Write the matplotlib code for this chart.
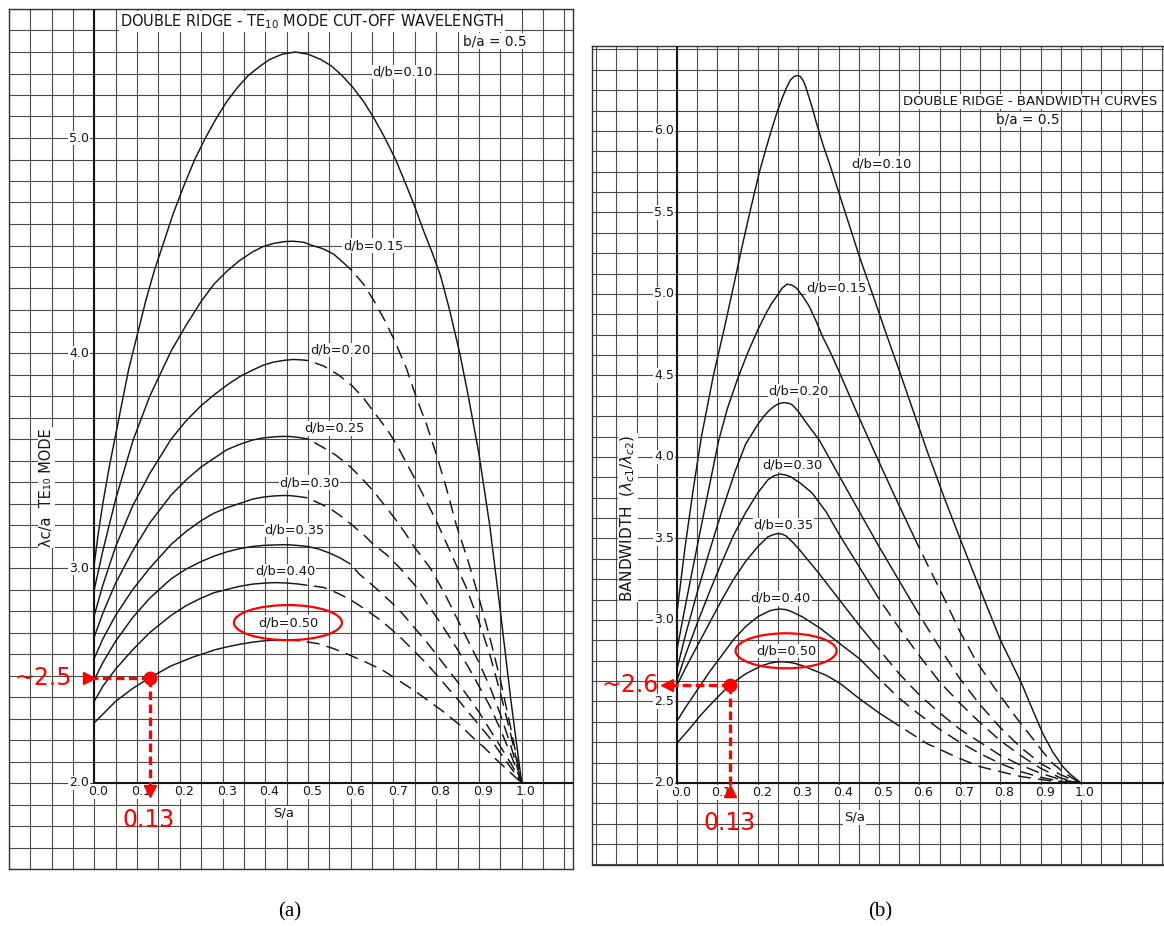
import numpy as np
import matplotlib
matplotlib.use("Agg")
import matplotlib.pyplot as plt
from matplotlib.patches import Ellipse

# ---------------- Panel (a): TE10 cut-off wavelength, lambda_c/a vs S/a ----------------
a_010_x = [0.00, 0.01, 0.02, 0.035, 0.05, 0.065, 0.08, 0.10, 0.12, 0.14, 0.16, 0.185, 0.21,
           0.235, 0.26, 0.285, 0.31, 0.335, 0.36, 0.385, 0.41, 0.44, 0.47, 0.50, 0.53,
           0.555, 0.58, 0.605, 0.63, 0.655, 0.68, 0.705, 0.73, 0.75, 0.77, 0.79, 0.81,
           0.83, 0.855, 0.875, 0.90, 0.925, 0.95, 0.975, 1.00]
a_010_y = [3.02, 3.17, 3.30, 3.47, 3.62, 3.77, 3.92, 4.08, 4.24, 4.38, 4.50, 4.65, 4.78,
           4.90, 5.00, 5.09, 5.17, 5.235, 5.29, 5.33, 5.365, 5.39, 5.40, 5.39, 5.365,
           5.335, 5.29, 5.235, 5.17, 5.09, 5.00, 4.90, 4.78, 4.68, 4.57, 4.47, 4.36,
           4.21, 4.00, 3.80, 3.53, 3.20, 2.80, 2.38, 2.00]

a_015_x = [0.00, 0.02, 0.05, 0.09, 0.13, 0.18, 0.215, 0.25, 0.28, 0.31, 0.34, 0.37, 0.395,
           0.42, 0.445, 0.465, 0.49, 0.51, 0.535, 0.56, 0.58, 0.602, 0.63, 0.657, 0.68,
           0.703, 0.73, 0.754, 0.777, 0.80, 0.824, 0.847, 0.875, 0.90, 0.925, 0.95, 0.975, 1.00]
a_015_y = [2.90, 3.08, 3.32, 3.59, 3.80, 4.01, 4.13, 4.24, 4.32, 4.38, 4.43, 4.47, 4.495,
           4.51, 4.518, 4.52, 4.515, 4.50, 4.485, 4.46, 4.425, 4.385, 4.32, 4.234, 4.15,
           4.056, 3.93, 3.79, 3.67, 3.53, 3.37, 3.20, 3.03, 2.86, 2.68, 2.48, 2.25, 2.00]

a_020_x = [0.00, 0.02, 0.05, 0.09, 0.13, 0.18, 0.215, 0.25, 0.28, 0.31, 0.34, 0.37, 0.395,
           0.42, 0.445, 0.465, 0.485, 0.50, 0.536, 0.57, 0.602, 0.63, 0.66, 0.685, 0.707,
           0.73, 0.754, 0.777, 0.80, 0.832, 0.87, 0.90, 0.925, 0.95, 0.975, 1.00]
a_020_y = [2.78, 2.92, 3.10, 3.29, 3.44, 3.60, 3.685, 3.755, 3.805, 3.85, 3.89, 3.92, 3.943,
           3.958, 3.966, 3.97, 3.968, 3.965, 3.94, 3.90, 3.85, 3.79, 3.71, 3.645, 3.575,
           3.49, 3.40, 3.31, 3.22, 3.08, 2.91, 2.75, 2.60, 2.42, 2.22, 2.00]

a_025_x = [0.00, 0.02, 0.05, 0.09, 0.13, 0.18, 0.215, 0.25, 0.28, 0.31, 0.34, 0.37, 0.395,
           0.42, 0.44, 0.455, 0.475, 0.50, 0.536, 0.565, 0.594, 0.622, 0.652, 0.68, 0.707,
           0.73, 0.75, 0.786, 0.82, 0.85, 0.875, 0.90, 0.925, 0.95, 0.975, 1.00]
a_025_y = [2.68, 2.79, 2.93, 3.08, 3.21, 3.34, 3.41, 3.47, 3.51, 3.55, 3.575, 3.595, 3.605,
           3.61, 3.612, 3.612, 3.608, 3.60, 3.56, 3.525, 3.48, 3.425, 3.36, 3.29, 3.22,
           3.155, 3.094, 3.00, 2.88, 2.76, 2.66, 2.56, 2.45, 2.32, 2.17, 2.00]

a_030_x = [0.00, 0.02, 0.05, 0.09, 0.13, 0.18, 0.215, 0.25, 0.28, 0.31, 0.34, 0.37, 0.395,
           0.42, 0.44, 0.455, 0.475, 0.497, 0.532, 0.558, 0.582, 0.606, 0.63, 0.653, 0.685,
           0.715, 0.75, 0.78, 0.815, 0.85, 0.875, 0.90, 0.925, 0.95, 0.975, 1.00]
a_030_y = [2.58, 2.67, 2.78, 2.90, 3.00, 3.11, 3.17, 3.22, 3.255, 3.28, 3.30, 3.32, 3.33,
           3.335, 3.337, 3.337, 3.333, 3.327, 3.296, 3.268, 3.234, 3.195, 3.155, 3.11, 3.06,
           3.00, 2.92, 2.83, 2.73, 2.62, 2.54, 2.45, 2.36, 2.25, 2.13, 2.00]

a_035_x = [0.00, 0.02, 0.05, 0.09, 0.13, 0.18, 0.215, 0.25, 0.28, 0.31, 0.34, 0.37, 0.395,
           0.42, 0.44, 0.455, 0.475, 0.50, 0.525, 0.55, 0.575, 0.598, 0.621, 0.645, 0.668,
           0.695, 0.72, 0.75, 0.78, 0.815, 0.85, 0.875, 0.90, 0.925, 0.95, 0.975, 1.00]
a_035_y = [2.48, 2.56, 2.66, 2.77, 2.86, 2.95, 2.995, 3.03, 3.055, 3.075, 3.09, 3.10, 3.105,
           3.107, 3.108, 3.108, 3.105, 3.10, 3.088, 3.07, 3.047, 3.02, 2.97, 2.93, 2.89,
           2.84, 2.79, 2.72, 2.65, 2.56, 2.47, 2.40, 2.33, 2.25, 2.17, 2.09, 2.00]

a_040_x = [0.00, 0.02, 0.05, 0.09, 0.13, 0.18, 0.215, 0.25, 0.28, 0.31, 0.34, 0.37, 0.40,
           0.425, 0.45, 0.475, 0.497, 0.536, 0.567, 0.598, 0.632, 0.668, 0.695, 0.72, 0.75,
           0.78, 0.815, 0.85, 0.875, 0.90, 0.925, 0.95, 0.975, 1.00]
a_040_y = [2.38, 2.45, 2.53, 2.62, 2.70, 2.78, 2.825, 2.86, 2.885, 2.90, 2.915, 2.925, 2.93,
           2.932, 2.93, 2.926, 2.92, 2.91, 2.885, 2.854, 2.81, 2.76, 2.715, 2.67, 2.61,
           2.55, 2.47, 2.39, 2.33, 2.27, 2.21, 2.14, 2.07, 2.00]

a_050_x = [0.00, 0.02, 0.05, 0.09, 0.13, 0.18, 0.23, 0.283, 0.31, 0.34, 0.37, 0.40, 0.42,
           0.44, 0.46, 0.48, 0.524, 0.56, 0.594, 0.632, 0.672, 0.71, 0.75, 0.785, 0.82,
           0.855, 0.886, 0.915, 0.94, 0.97, 1.00]
a_050_y = [2.28, 2.32, 2.38, 2.44, 2.49, 2.545, 2.585, 2.62, 2.633, 2.645, 2.655, 2.662, 2.664,
           2.665, 2.664, 2.662, 2.648, 2.625, 2.598, 2.565, 2.528, 2.48, 2.428, 2.378, 2.327,
           2.27, 2.211, 2.16, 2.11, 2.055, 2.00]

# S/a where each curve of panel (a) turns from solid to dashed
a_solid_until = {"0.10": 1.00, "0.15": 0.602, "0.20": 0.50, "0.25": 0.50,
                 "0.30": 0.497, "0.35": 0.598, "0.40": 0.497, "0.50": 0.48}

# marked reading on the d/b = 0.50 curve of panel (a)
a_mark_x = 0.13
a_mark_y = 2.49

# ---------------- Panel (b): bandwidth lambda_c1/lambda_c2 vs S/a ----------------
b_010_x = [0.00, 0.02, 0.04, 0.06, 0.09, 0.118, 0.14, 0.16, 0.182, 0.204, 0.22, 0.233, 0.247,
           0.26, 0.27, 0.28, 0.29, 0.298, 0.305, 0.312, 0.318, 0.325, 0.335, 0.345, 0.362,
           0.38, 0.415, 0.45, 0.489, 0.52, 0.55, 0.585, 0.62, 0.66, 0.702, 0.75, 0.80, 0.853,
           0.88, 0.906, 0.93, 0.955, 0.975, 1.00]
b_010_y = [3.05, 3.45, 3.80, 4.12, 4.50, 4.80, 5.05, 5.28, 5.52, 5.75, 5.89, 6.00, 6.11,
           6.20, 6.26, 6.31, 6.335, 6.34, 6.335, 6.31, 6.275, 6.22, 6.14, 6.05, 5.91,
           5.78, 5.51, 5.24, 4.963, 4.74, 4.53, 4.28, 4.03, 3.76, 3.49, 3.19, 2.88, 2.61,
           2.45, 2.30, 2.19, 2.10, 2.05, 2.00]

b_015_x = [0.00, 0.02, 0.04, 0.07, 0.103, 0.125, 0.15, 0.175, 0.20, 0.22, 0.235, 0.248, 0.26,
           0.272, 0.284, 0.296, 0.31, 0.326, 0.343, 0.36, 0.38, 0.40, 0.449, 0.498, 0.547,
           0.60, 0.652, 0.70, 0.74, 0.784, 0.84, 0.875, 0.906, 0.93, 0.955, 0.978, 1.00]
b_015_y = [2.82, 3.08, 3.33, 3.70, 4.10, 4.30, 4.48, 4.64, 4.78, 4.88, 4.945, 4.99, 5.035,
           5.06, 5.055, 5.035, 4.99, 4.93, 4.84, 4.74, 4.64, 4.53, 4.25, 3.98, 3.716,
           3.44, 3.18, 2.93, 2.75, 2.59, 2.40, 2.29, 2.19, 2.12, 2.07, 2.03, 2.00]

b_020_x = [0.00, 0.02, 0.05, 0.08, 0.11, 0.145, 0.17, 0.20, 0.215, 0.23, 0.24, 0.25, 0.26,
           0.268, 0.276, 0.285, 0.30, 0.32, 0.353, 0.40, 0.45, 0.50, 0.55, 0.60, 0.65, 0.70,
           0.75, 0.80, 0.85, 0.90, 0.95, 1.00]
b_020_y = [2.70, 2.90, 3.17, 3.42, 3.66, 3.92, 4.08, 4.20, 4.25, 4.29, 4.31, 4.325, 4.332,
           4.333, 4.33, 4.32, 4.28, 4.21, 4.10, 3.89, 3.67, 3.45, 3.24, 3.03, 2.83, 2.64,
           2.48, 2.34, 2.22, 2.12, 2.05, 2.00]

b_030_x = [0.00, 0.02, 0.05, 0.08, 0.11, 0.14, 0.17, 0.20, 0.225, 0.24, 0.255, 0.268, 0.28,
           0.305, 0.334, 0.37, 0.40, 0.44, 0.50, 0.55, 0.60, 0.65, 0.70, 0.75, 0.80, 0.85,
           0.90, 0.95, 1.00]
b_030_y = [2.63, 2.78, 2.98, 3.17, 3.35, 3.52, 3.66, 3.78, 3.86, 3.885, 3.895, 3.89, 3.88,
           3.84, 3.78, 3.66, 3.53, 3.37, 3.13, 2.95, 2.78, 2.62, 2.49, 2.37, 2.26, 2.17,
           2.09, 2.03, 2.00]

b_035_x = [0.00, 0.02, 0.05, 0.08, 0.11, 0.14, 0.17, 0.20, 0.225, 0.24, 0.25, 0.26, 0.27,
           0.285, 0.30, 0.35, 0.40, 0.45, 0.50, 0.55, 0.60, 0.65, 0.70, 0.75, 0.80, 0.85,
           0.90, 0.95, 1.00]
b_035_y = [2.60, 2.70, 2.84, 2.98, 3.12, 3.25, 3.36, 3.45, 3.51, 3.525, 3.53, 3.527, 3.515,
           3.48, 3.44, 3.29, 3.13, 2.97, 2.82, 2.67, 2.54, 2.43, 2.33, 2.25, 2.17, 2.11,
           2.06, 2.02, 2.00]

b_040_x = [0.00, 0.02, 0.05, 0.08, 0.11, 0.14, 0.17, 0.20, 0.23, 0.243, 0.255, 0.268, 0.28,
           0.31, 0.354, 0.40, 0.453, 0.50, 0.55, 0.60, 0.65, 0.70, 0.75, 0.80, 0.85, 0.90,
           0.95, 1.00]
b_040_y = [2.38, 2.46, 2.57, 2.68, 2.78, 2.88, 2.96, 3.02, 3.057, 3.064, 3.067, 3.064, 3.055,
           3.02, 2.95, 2.86, 2.76, 2.64, 2.52, 2.42, 2.33, 2.25, 2.18, 2.12, 2.07, 2.035,
           2.01, 2.00]

b_050_x = [0.00, 0.03, 0.06, 0.09, 0.13, 0.17, 0.21, 0.23, 0.245, 0.26, 0.275, 0.29, 0.31,
           0.33, 0.37, 0.404, 0.45, 0.50, 0.55, 0.62, 0.70, 0.75, 0.85, 0.92, 1.00]
b_050_y = [2.245, 2.33, 2.42, 2.50, 2.60, 2.67, 2.72, 2.735, 2.742, 2.744, 2.741, 2.735, 2.72,
           2.70, 2.66, 2.61, 2.52, 2.43, 2.35, 2.24, 2.15, 2.10, 2.04, 2.015, 2.00]

b_solid_until = {"0.10": 1.00, "0.15": 0.60, "0.20": 0.60, "0.30": 0.50,
                 "0.35": 0.50, "0.40": 0.50, "0.50": 0.55}

b_mark_x = 0.13
b_mark_y = 2.60

# tick labels
x_tick_labels = ["0.0", "0.1", "0.2", "0.3", "0.4", "0.5", "0.6", "0.7", "0.8", "0.9", "1.0"]
a_y_tick_labels = ["2.0", "3.0", "4.0", "5.0"]
b_y_tick_labels = ["2.0", "2.5", "3.0", "3.5", "4.0", "4.5", "5.0", "5.5", "6.0"]

# ---------------------------------------------------------------------------
W, H = 1164, 926
fig = plt.figure(figsize=(W / 100, H / 100), dpi=100)
fig.patch.set_facecolor("white")

INK = "#151515"
GRID = "#4a4a4a"
RED = "#ff0000"
WHITE_BOX = dict(facecolor="white", edgecolor="none", pad=0.6)


def axes_px(left, top, right, bottom):
    return fig.add_axes([left / W, 1 - bottom / H, (right - left) / W, (bottom - top) / H])


def graph_paper(ax, xlim, ylim, xstep, y0, ystep):
    ax.set_xlim(*xlim)
    ax.set_ylim(*ylim)
    xs = np.arange(-0.2, xlim[1] + 1e-9, xstep)
    ys = np.concatenate([np.arange(y0, ylim[0] - 1e-9, -ystep)[::-1][:-1],
                         np.arange(y0, ylim[1] + 1e-9, ystep)])
    ax.set_xticks(xs)
    ax.set_yticks(ys)
    ax.tick_params(length=0, labelbottom=False, labelleft=False)
    ax.grid(True, color=GRID, lw=0.8)
    ax.set_axisbelow(True)
    for s in ax.spines.values():
        s.set_color("#333333")
        s.set_linewidth(1.0)
    # main axes of the chart: S/a = 0 and the 2.0 baseline
    fx = (0 - xlim[0]) / (xlim[1] - xlim[0])
    fy = (2.0 - ylim[0]) / (ylim[1] - ylim[0])
    ax.axvline(0.0, ymin=fy, ymax=1, color=INK, lw=1.5, zorder=3)
    ax.axhline(2.0, xmin=fx, xmax=1, color=INK, lw=1.5, zorder=3)


def curve(ax, xs, ys, solid_until):
    xs = np.asarray(xs)
    ys = np.asarray(ys)
    s = xs <= solid_until + 1e-9
    ax.plot(xs[s], ys[s], color=INK, lw=1.05, zorder=4, solid_joinstyle="round")
    d = xs >= solid_until - 1e-9
    if d.sum() > 1:
        ax.plot(xs[d], ys[d], color=INK, lw=1.05, zorder=4, linestyle=(9, (9, 5)))


def label(ax, x, y, s, size=9.5, **kw):
    ax.text(x, y, s, ha="center", va="center", fontsize=size, color=INK,
            bbox=WHITE_BOX, zorder=5, **kw)


# ------------------------------- panel (a) ---------------------------------
ax_a = axes_px(8.8, 9, 573, 869)
graph_paper(ax_a, (-0.2, 1.12), (1.6, 5.6), 0.05, 2.0, 0.1)

a_curves = [("0.10", a_010_x, a_010_y), ("0.15", a_015_x, a_015_y),
            ("0.20", a_020_x, a_020_y), ("0.25", a_025_x, a_025_y),
            ("0.30", a_030_x, a_030_y), ("0.35", a_035_x, a_035_y),
            ("0.40", a_040_x, a_040_y), ("0.50", a_050_x, a_050_y)]
for key, xs, ys in a_curves:
    curve(ax_a, xs, ys, a_solid_until[key])

a_label_pos = {"0.10": (0.722, 5.307), "0.15": (0.653, 4.50), "0.20": (0.577, 4.014),
               "0.25": (0.562, 3.65), "0.30": (0.5035, 3.397), "0.35": (0.4686, 3.177),
               "0.40": (0.446, 2.987), "0.50": (0.453, 2.746)}
for key, (lx, ly) in a_label_pos.items():
    label(ax_a, lx, ly, f"d/b={key}", 9.3)

label(ax_a, 0.509, 5.541, "DOUBLE RIDGE - TE$_{10}$ MODE CUT-OFF WAVELENGTH", 10.5)
label(ax_a, 0.936, 5.45, "b/a = 0.5", 9.8)
label(ax_a, -0.112, 3.374, "λc/a  TE₁₀ MODE", 10.5, rotation=90)
for i, t in enumerate(x_tick_labels):
    label(ax_a, i / 10 + 0.01, 1.96, t, 9)
for t in a_y_tick_labels:
    ax_a.text(-0.012, float(t), t, ha="right", va="center", fontsize=9, color=INK,
              bbox=WHITE_BOX, zorder=5)
label(ax_a, 0.444, 1.86, "S/a", 9.5)

# red reading marks, panel (a)
ax_a.add_patch(Ellipse((0.453, 2.746), 0.2527, 0.163, fill=False, ec=RED, lw=1.6, zorder=6))
ax_a.plot([a_mark_x, -0.005], [a_mark_y, a_mark_y], color=RED, lw=2.4,
          dashes=(2.6, 1.3), zorder=6)
ax_a.plot([a_mark_x, a_mark_x], [a_mark_y, 1.98], color=RED, lw=2.4,
          dashes=(2.6, 1.3), zorder=6)
ax_a.plot([a_mark_x], [a_mark_y], "o", color=RED, ms=9, zorder=7)
ax_a.plot([-0.012], [a_mark_y], ">", color=RED, ms=9, zorder=7)
ax_a.plot([a_mark_x], [1.965], "v", color=RED, ms=9, zorder=7)
ax_a.text(-0.12, a_mark_y, "~2.5", color=RED, fontsize=17, ha="center", va="center", zorder=7)
ax_a.text(0.126, 1.828, f"{a_mark_x:.2f}", color=RED, fontsize=17, ha="center", va="center",
          zorder=7)

# ------------------------------- panel (b) ---------------------------------
ax_b = axes_px(592.2, 46.2, 1164, 864.5)
graph_paper(ax_b, (-0.21, 1.2054), (1.5, 6.52), 0.05, 2.0, 0.125)

b_curves = [("0.10", b_010_x, b_010_y), ("0.15", b_015_x, b_015_y),
            ("0.20", b_020_x, b_020_y), ("0.30", b_030_x, b_030_y),
            ("0.35", b_035_x, b_035_y), ("0.40", b_040_x, b_040_y),
            ("0.50", b_050_x, b_050_y)]
for key, xs, ys in b_curves:
    curve(ax_b, xs, ys, b_solid_until[key])

b_label_pos = {"0.10": (0.507, 5.80), "0.15": (0.395, 5.035), "0.20": (0.3007, 4.405),
               "0.30": (0.285, 3.95), "0.35": (0.2636, 3.583), "0.40": (0.2567, 3.133),
               "0.50": (0.27, 2.81)}
for key, (lx, ly) in b_label_pos.items():
    label(ax_b, lx, ly, f"d/b={key}", 9.3)

label(ax_b, 0.874, 6.18, "DOUBLE RIDGE - BANDWIDTH CURVES", 9.5)
label(ax_b, 0.869, 6.07, "b/a = 0.5", 9.8)
label(ax_b, -0.121, 3.626, r"BANDWIDTH  $(\lambda_{c1}/\lambda_{c2})$", 11, rotation=90)
for i, t in enumerate(x_tick_labels):
    label(ax_b, i / 10 + 0.01, 1.94, t, 9)
for t in b_y_tick_labels:
    ax_b.text(-0.008, float(t), t, ha="right", va="center", fontsize=9, color=INK,
              bbox=WHITE_BOX, zorder=5)
label(ax_b, 0.44, 1.79, "S/a", 9.5)

# red reading marks, panel (b)
ax_b.add_patch(Ellipse((0.27, 2.811), 0.25, 0.2147, fill=False, ec=RED, lw=1.6, zorder=6))
ax_b.plot([b_mark_x, -0.02], [b_mark_y, b_mark_y], color=RED, lw=2.4,
          dashes=(2.6, 1.3), zorder=6)
ax_b.plot([b_mark_x, b_mark_x], [b_mark_y, 1.97], color=RED, lw=2.4,
          dashes=(2.6, 1.3), zorder=6)
ax_b.plot([b_mark_x], [b_mark_y], "o", color=RED, ms=9, zorder=7)
ax_b.plot([-0.025], [b_mark_y], "<", color=RED, ms=9, zorder=7)
ax_b.plot([b_mark_x], [1.95], "^", color=RED, ms=9, zorder=7)
ax_b.text(-0.115, b_mark_y, "~2.6", color=RED, fontsize=17, ha="center", va="center", zorder=7)
ax_b.text(0.129, 1.755, f"{b_mark_x:.2f}", color=RED, fontsize=17, ha="center", va="center",
          zorder=7)

# sub-figure captions
fig.text(290 / W, 1 - 912 / H, "(a)", ha="center", va="center", fontsize=15,
         family="Liberation Serif")
fig.text(880 / W, 1 - 912 / H, "(b)", ha="center", va="center", fontsize=15,
         family="Liberation Serif")

fig.savefig("out.png", dpi=100, facecolor="white")
